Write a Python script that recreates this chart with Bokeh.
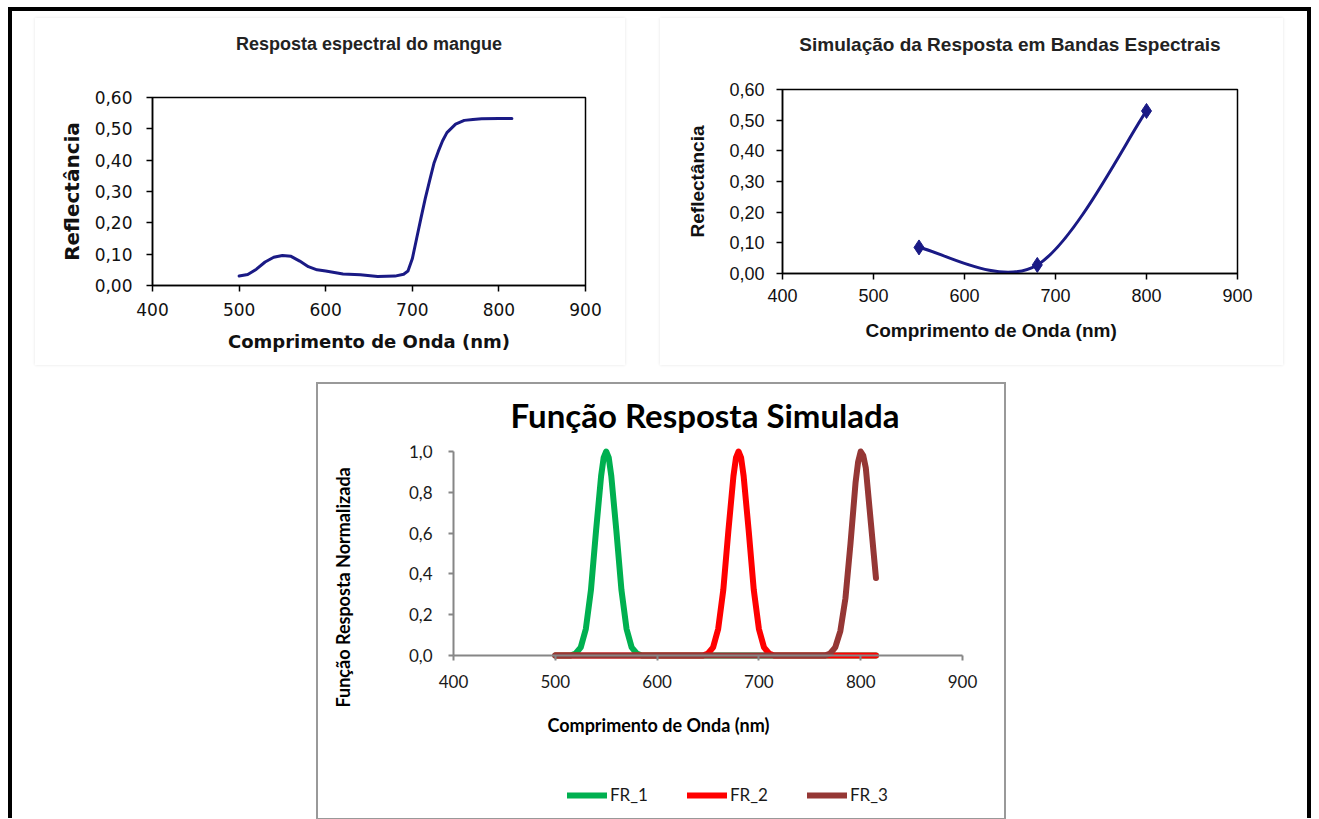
from bokeh.plotting import figure
from bokeh.layouts import column, row
from bokeh.models import (Spacer, FixedTicker, Legend, LegendItem, Title, Label,
                          CustomJSTickFormatter)
from bokeh.embed import file_html
from bokeh.resources import INLINE

# ---------------- data ----------------
wavelength_ticks = [400, 500, 600, 700, 800, 900]
refl_ticks = [0.0, 0.1, 0.2, 0.3, 0.4, 0.5, 0.6]
norm_ticks = [0.0, 0.2, 0.4, 0.6, 0.8, 1.0]

# Chart 1: spectral response of mangrove
mangue_wl = [500, 510, 520, 530, 540, 550, 560, 570, 580, 590, 600, 620, 640,
             660, 680, 690, 695, 700, 705, 710, 715, 720, 725, 730, 735, 740,
             750, 760, 770, 780, 800, 815]
mangue_refl = [0.030, 0.035, 0.052, 0.075, 0.090, 0.096, 0.093, 0.078, 0.060,
               0.050, 0.046, 0.037, 0.034, 0.029, 0.030, 0.036, 0.046, 0.085,
               0.150, 0.215, 0.278, 0.335, 0.390, 0.428, 0.462, 0.488, 0.515,
               0.527, 0.530, 0.532, 0.533, 0.533]

# Chart 2: simulated band response
band_wl = [550, 680, 800]
band_refl = [0.085, 0.028, 0.530]

# Chart 3: simulated response functions
fr1_wl = [500, 515, 520, 525, 530, 535, 540, 545, 547.5, 550, 552.5, 555, 560,
          565, 570, 575, 580, 585, 815]
fr1 = [0, 0, 0.01, 0.04, 0.13, 0.32, 0.61, 0.88, 0.97, 1.0, 0.97, 0.88, 0.61,
       0.32, 0.13, 0.04, 0.01, 0, 0]
fr2_wl = [500, 645, 650, 655, 660, 665, 670, 675, 677.5, 680, 682.5, 685, 690,
          695, 700, 705, 710, 715, 815]
fr2 = [0, 0, 0.01, 0.04, 0.13, 0.32, 0.61, 0.88, 0.97, 1.0, 0.97, 0.88, 0.61,
       0.32, 0.13, 0.04, 0.01, 0, 0]
fr3_wl = [500, 765, 770, 775, 780, 785, 790, 795, 797.5, 800, 802.5, 805, 810, 815]
fr3 = [0, 0, 0.01, 0.04, 0.12, 0.28, 0.55, 0.85, 0.95, 1.0, 0.98, 0.92, 0.65, 0.38]
fr_labels = ["FR_1", "FR_2", "FR_3"]
fr_colors = ["#00B050", "#FF0000", "#953735"]

NAVY = "#1a1a85"


def smooth_segments(xs, ys, k=1.0 / 6.0):
    """Bezier control points for a smoothed line through the points."""
    n = len(xs)
    seg = dict(x0=[], y0=[], x1=[], y1=[], cx0=[], cy0=[], cx1=[], cy1=[])
    for i in range(n - 1):
        ip, inx, in2 = max(i - 1, 0), i + 1, min(i + 2, n - 1)
        seg["x0"].append(xs[i]); seg["y0"].append(ys[i])
        seg["x1"].append(xs[inx]); seg["y1"].append(ys[inx])
        seg["cx0"].append(xs[i] + k * (xs[inx] - xs[ip]))
        seg["cy0"].append(ys[i] + k * (ys[inx] - ys[ip]))
        seg["cx1"].append(xs[inx] - k * (xs[in2] - xs[i]))
        seg["cy1"].append(ys[inx] - k * (ys[in2] - ys[i]))
    return seg


def gap(p, side, px):
    """Invisible spacer title used to push panels away from the frame."""
    p.add_layout(Title(text=" ", text_font_size="1px", standoff=px), side)


def add_title(p, side, text, font, size, color, align="center", offset=0):
    p.add_layout(Title(text=text, text_font=font, text_font_size=size,
                       text_font_style="bold", text_color=color, align=align,
                       offset=offset, standoff=0), side)


comma2 = CustomJSTickFormatter(code="return tick.toFixed(2).replace('.', ',');")
comma1 = CustomJSTickFormatter(code="return tick.toFixed(1).replace('.', ',');")


def style_excel2003(p, font, tick_size, label_size):
    p.xgrid.visible = False
    p.ygrid.visible = False
    p.outline_line_color = "black"
    p.outline_line_width = 1.5
    p.xaxis.ticker = FixedTicker(ticks=wavelength_ticks)
    p.yaxis.ticker = FixedTicker(ticks=refl_ticks)
    p.yaxis.formatter = comma2
    for ax in (p.xaxis, p.yaxis):
        ax.axis_line_color = "black"
        ax.axis_line_width = 1.5
        ax.major_tick_line_color = "black"
        ax.major_tick_line_width = 1.5
        ax.major_tick_out = 6
        ax.major_tick_in = 0
        ax.minor_tick_out = 0
        ax.minor_tick_in = 0
        ax.major_label_text_font = font
        ax.major_label_text_font_size = tick_size
        ax.major_label_text_color = "#111111"
        ax.axis_label_text_font = font
        ax.axis_label_text_font_size = label_size
        ax.axis_label_text_font_style = "bold"
        ax.axis_label_text_color = "#111111"
    p.border_fill_color = "white"
    p.background_fill_color = "white"


# ---------------- chart 1 ----------------
p1 = figure(width=590, height=347, x_range=(400, 900), y_range=(0, 0.6),
            min_border_left=117, min_border_right=40, min_border_top=79,
            min_border_bottom=80, output_backend="svg", toolbar_location=None,
            x_axis_label="Comprimento de Onda (nm)", y_axis_label="Reflectância")
p1.frame_align = False
style_excel2003(p1, "DejaVu Sans", "17px", "18px")
p1.yaxis.axis_label_text_font_size = "20px"
p1.xaxis.major_label_standoff = 11
p1.xaxis.axis_label_standoff = 12
p1.yaxis.major_label_standoff = 14
p1.yaxis.axis_label_standoff = 8
gap(p1, "above", 41)
add_title(p1, "above", "Resposta espectral do mangue", "Liberation Sans",
          "18px", "#222222")
p1.line(mangue_wl, mangue_refl, line_color=NAVY, line_width=3,
        line_join="round", line_cap="round")
p1.styles = {"box-shadow": "0 0 3px #e4e4e4"}

# ---------------- chart 2 ----------------
p2 = figure(width=623, height=347, x_range=(400, 900), y_range=(0, 0.6),
            min_border_left=122, min_border_right=46, min_border_top=71,
            min_border_bottom=92, output_backend="svg", toolbar_location=None,
            y_axis_label="Reflectância")
p2.frame_align = False
style_excel2003(p2, "Liberation Sans", "18px", "19px")
p2.xaxis.major_label_standoff = 9
p2.yaxis.major_label_standoff = 12
p2.yaxis.axis_label_standoff = 18
gap(p2, "above", 32)
add_title(p2, "above", "Simulação da Resposta em Bandas Espectrais",
          "Liberation Sans", "19px", "#222222")
gap(p2, "below", 10)
add_title(p2, "below", "Comprimento de Onda (nm)", "Liberation Sans", "19px",
          "#111111", align="left", offset=83)
seg = smooth_segments(band_wl, band_refl)
p2.bezier(x0=seg["x0"], y0=seg["y0"], x1=seg["x1"], y1=seg["y1"],
          cx0=seg["cx0"], cy0=seg["cy0"], cx1=seg["cx1"], cy1=seg["cy1"],
          line_color=NAVY, line_width=3)
p2.scatter(band_wl, band_refl, marker="diamond", size=15, fill_color=NAVY,
           line_color=NAVY)
p2.styles = {"box-shadow": "0 0 3px #e4e4e4"}

# ---------------- chart 3 ----------------
# The frame is enlarged around the axes (both axes are pinned at 400 nm / 0)
# so that tick labels, axis label and legend sit inside it, as in Excel.
P3_W, P3_H = 686, 434
P3_LEFT, P3_RIGHT, P3_TOP, P3_BOTTOM = 80, 12, 61, 8
FRAME_W = P3_W - P3_LEFT - P3_RIGHT
FRAME_H = P3_H - P3_TOP - P3_BOTTOM
PX_PER_NM = 509.0 / 500.0
PX_PER_UNIT = 204.0
AXIS_X_PX = 55      # y axis distance from the frame's left edge
AXIS_TOP_PX = 6     # room above 1,0 so the peaks are not cut
x_start = 400 - AXIS_X_PX / PX_PER_NM
x_end = x_start + FRAME_W / PX_PER_NM
y_end = 1.0 + AXIS_TOP_PX / PX_PER_UNIT
y_start = y_end - FRAME_H / PX_PER_UNIT
p3 = figure(width=P3_W, height=P3_H, x_range=(x_start, x_end),
            y_range=(y_start, y_end),
            min_border_left=P3_LEFT, min_border_right=P3_RIGHT,
            min_border_top=P3_TOP, min_border_bottom=P3_BOTTOM,
            output_backend="svg", toolbar_location=None)
p3.frame_align = False
p3.xgrid.visible = False
p3.ygrid.visible = False
p3.outline_line_color = None
p3.xaxis.ticker = FixedTicker(ticks=wavelength_ticks)
p3.yaxis.ticker = FixedTicker(ticks=norm_ticks)
p3.yaxis.formatter = comma1
p3.xaxis.fixed_location = 0
p3.yaxis.fixed_location = 400
p3.xaxis.bounds = (400, 900)
p3.yaxis.bounds = (0, 1)
for ax in (p3.xaxis, p3.yaxis):
    ax.axis_line_color = "#868686"
    ax.axis_line_width = 2
    ax.major_tick_line_color = "#868686"
    ax.major_tick_line_width = 2
    ax.major_tick_out = 5
    ax.major_tick_in = 0
    ax.minor_tick_out = 0
    ax.minor_tick_in = 0
    ax.major_label_text_font = "Lato"
    ax.major_label_text_font_size = "17px"
    ax.major_label_text_color = "#1a1a1a"
p3.xaxis.major_label_standoff = 14
p3.yaxis.major_label_standoff = 16
gap(p3, "above", 8)
add_title(p3, "above", "Função Resposta Simulada", "Lato", "33px", "#000000",
          align="left", offset=112)
gap(p3, "left", 42)
add_title(p3, "left", "Função Resposta Normalizada", "Lato", "18px",
          "#000000", align="left", offset=103)
p3.add_layout(Label(x=149, y=86, x_units="screen", y_units="screen",
                    text="Comprimento de Onda (nm)", text_font="Lato",
                    text_font_size="18px", text_font_style="bold",
                    text_color="#000000", text_align="left",
                    text_baseline="middle"))

fr_data = [(fr1_wl, fr1), (fr2_wl, fr2), (fr3_wl, fr3)]
renderers = []
for (xs, ys), col in zip(fr_data, fr_colors):
    r = p3.line(xs, ys, line_color=col, line_width=6, line_join="round",
                line_cap="round")
    renderers.append(r)
legend = Legend(items=[LegendItem(label=lab, renderers=[r])
                       for lab, r in zip(fr_labels, renderers)],
                orientation="horizontal", location=(169, 5), margin=0,
                glyph_width=40, glyph_height=20, label_standoff=3, spacing=39,
                padding=5, border_line_color=None, background_fill_alpha=0,
                label_text_font="Lato", label_text_font_size="17px",
                label_text_color="#1a1a1a")
p3.add_layout(legend)
p3.styles = {"box-shadow": "0 0 0 2px #999999"}

# ---------------- page layout ----------------
frame_col = column(
    Spacer(width=1303, height=11),
    row(Spacer(width=27, height=347), p1, Spacer(width=35, height=347), p2,
        Spacer(width=28, height=347)),
    Spacer(width=1303, height=19),
    row(Spacer(width=310, height=P3_H), p3),
    styles={"box-shadow": "inset 4px 4px 0 0 #000000, inset -4px 0 0 0 #000000"},
)
page = column(
    Spacer(width=1311, height=7),
    row(Spacer(width=8, height=811), frame_col),
)

open("out.html", "w").write(file_html(page, INLINE))
